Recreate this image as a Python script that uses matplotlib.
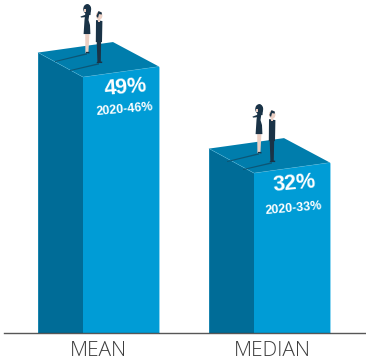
import matplotlib
matplotlib.use("Agg")
import matplotlib.pyplot as plt
from matplotlib.patches import Polygon, Ellipse

categories = ["MEAN", "MEDIAN"]
values = [49, 32]
prior_labels = ["2020-46%", "2020-33%"]

FRONT = "#009cd6"
SIDE = "#006c97"
TOP = "#007dac"
EDGE = "#5cc4ea"
SHADOW = "#0d5675"
NAVY = "#1a3347"
SKIN = "#ecd0c4"

# value scale: the baseline sits a little above zero
Y_BASE = 3.7
PX_PER_UNIT = 5.65
W, H = 366, 362
BASE_PX = 333

fig = plt.figure(figsize=(W / 100, H / 100), dpi=100)
ax = fig.add_axes([0, 0, 1, 1])
ax.set_xlim(0, W)
ax.set_ylim(Y_BASE - (H - BASE_PX) / PX_PER_UNIT, Y_BASE + BASE_PX / PX_PER_UNIT)
ax.axis("off")


def up(px):
    return px / PX_PER_UNIT


def poly(x0, y0, pts, color, z=2, **kw):
    # pts are pixel offsets from (x0, y0), y pointing up
    xy = [(x0 + dx, y0 + up(dy)) for dx, dy in pts]
    ax.add_patch(Polygon(xy, closed=True, facecolor=color, edgecolor="none", zorder=z, **kw))


def draw_woman(x, y):
    poly(x, y, [(-1.6, 0), (1.4, 0), (2.4, 19), (-1.8, 19)], SKIN, 5)
    poly(x, y, [(-1.2, 0), (2.4, -0.4), (2.4, 1.2), (-1.2, 1.2)], NAVY, 6)
    poly(x, y, [(-3.4, 19), (3.4, 19), (3, 28), (1.5, 33), (2.5, 40), (-1.5, 41), (-2.5, 33)], NAVY, 6)
    poly(x, y, [(-1, 38.5), (-6.5, 36.5), (-6, 35.5), (-1, 36)], NAVY, 6)
    ax.add_patch(Ellipse((x + 0.2, y + up(44)), 6.5, up(8.5), color=NAVY, zorder=6))
    poly(x, y, [(-3, 46), (1, 49), (4, 45), (3.5, 38), (1, 38), (1, 44)], NAVY, 6)
    poly(x, y, [(-3.2, 44), (-1, 44), (-1, 41), (-2.6, 41)], SKIN, 7)


def draw_man(x, y):
    poly(x, y, [(-2.6, 0), (3.2, 0), (3.2, 1.5), (1.8, 1.5), (2.2, 24), (-2.4, 24), (-1.6, 1.5)], NAVY, 6)
    poly(x, y, [(-3.2, 21), (3, 21), (3.4, 42), (-3, 43)], NAVY, 6)
    poly(x, y, [(-0.8, 41), (1.2, 41), (1.2, 45), (-0.8, 45)], SKIN, 7)
    ax.add_patch(Ellipse((x + 0.2, y + up(47.5)), 5.0, up(7), color=SKIN, zorder=6))
    poly(x, y, [(-2.6, 47), (-0.5, 52), (2.8, 50.5), (2.8, 48.5), (0, 49), (-1, 45)], NAVY, 7)


# bar geometry is in pixels; the people are placed as offsets from the front corner
bar_lefts = [38, 209]
side_w = 45
front_w = 76
rise_left = 24.5
rise_right = 10.5
woman_offsets = [(4, 24), (5, 20)]
man_offsets = [(16, 14), (18, 11)]
label_shift = [0, 2.5]
value_offsets = [(43, 11), (40, 11)]
prior_offsets = [(42, 32), (40, 35)]

for i, (name, val) in enumerate(zip(categories, values)):
    left = bar_lefts[i]
    cx = left + side_w

    # side face, front face, then the lid
    ax.fill([left, cx, cx, left], [Y_BASE, Y_BASE, val, val + up(rise_left)], color=SIDE, lw=0, zorder=2)
    ax.fill([cx, cx + front_w, cx + front_w, cx], [Y_BASE, Y_BASE, val + up(rise_right), val],
            color=FRONT, lw=0, zorder=2)
    poly(cx, val, [(0, 0), (front_w, rise_right), (30, 35), (-side_w, rise_left)], TOP, 3)

    ax.plot([left, cx, cx + front_w], [val + up(rise_left), val, val + up(rise_right)],
            color=EDGE, lw=0.4, alpha=0.55, zorder=4)
    ax.plot([cx + front_w, cx + front_w], [Y_BASE, val + up(rise_right)], color=EDGE, lw=0.5, zorder=4)
    ax.plot([left, left], [Y_BASE, val + up(rise_left)], color=EDGE, lw=0.4, alpha=0.5, zorder=4)

    wx, wy = woman_offsets[i]
    mx, my = man_offsets[i]
    poly(cx, val, [(wx, wy), (wx - 32, wy - 8), (wx - 32, wy - 9), (wx, wy - 1.5)], SHADOW, 4)
    poly(cx, val, [(mx, my), (mx - 29, my - 7), (mx - 29, my - 8), (mx, my - 1.5)], SHADOW, 4)
    draw_woman(cx + wx, val + up(wy))
    draw_man(cx + mx, val + up(my))

    vx, vy = value_offsets[i]
    px, py = prior_offsets[i]
    ax.text(cx + vx, val - up(vy), f"{val}%", color="white", fontsize=15.5, fontweight="bold",
            family="Liberation Sans", rotation=5, ha="center", va="center", zorder=8)
    ax.text(cx + px, val - up(py), prior_labels[i], color="white", fontsize=9, fontweight="bold",
            family="Liberation Sans", rotation=5, ha="center", va="center", zorder=8)

    ax.text(left + (side_w + front_w) / 2 + label_shift[i], Y_BASE - up(18), name, color="#3c3c3c",
            fontsize=15, family="Open Sans", fontweight="light", ha="center", va="center")

ax.plot([4, W], [Y_BASE, Y_BASE], color="#3a3a3a", lw=1.0, alpha=0.85, zorder=7)

fig.savefig("out.png", dpi=100)
